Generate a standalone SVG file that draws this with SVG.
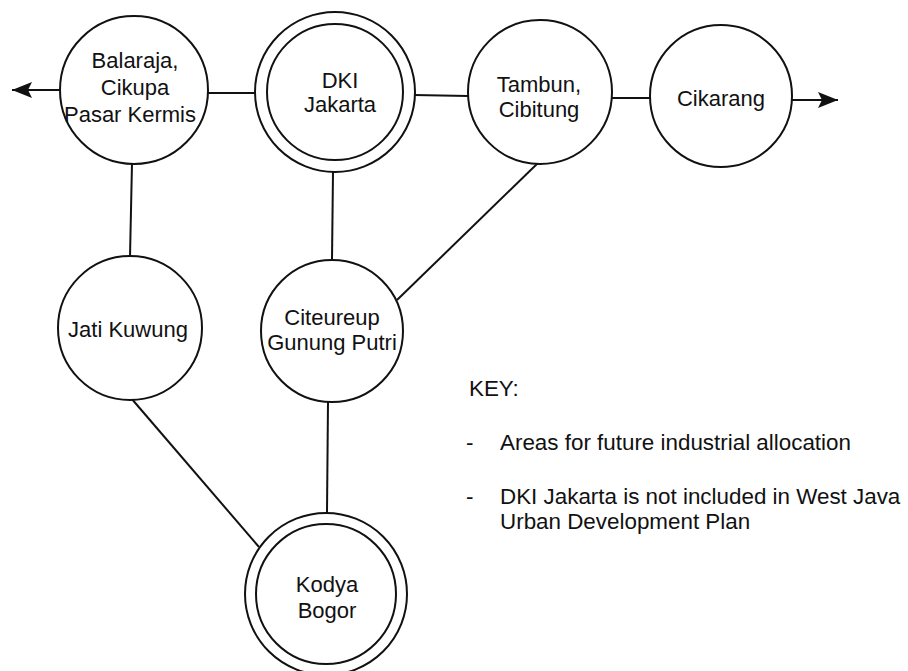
<svg xmlns="http://www.w3.org/2000/svg" width="908" height="671" viewBox="0 0 908 671">
  <style>
    .ring { fill: #fff; stroke: #111; stroke-width: 2; }
    .link { stroke: #111; stroke-width: 2; fill: none; }
    .label { font-family: "Liberation Sans", Arial, sans-serif; font-size: 22px; fill: #111; text-anchor: middle; }
    .key { font-family: "Liberation Sans", Arial, sans-serif; font-size: 22.4px; fill: #111; }
  </style>
  <defs>
    <marker id="arrow" viewBox="0 0 20 16" refX="20" refY="8" markerWidth="20" markerHeight="16" markerUnits="userSpaceOnUse" orient="auto">
      <path d="M0,0 L20,8 L0,16 L4,8 Z" fill="#111"/>
    </marker>
  </defs>
  <rect width="908" height="671" fill="#fff"/>

  <!-- connectors -->
  <g id="connectors">
    <line class="link" x1="60" y1="90" x2="12" y2="90" marker-end="url(#arrow)"/>
    <line class="link" x1="208" y1="93" x2="256" y2="93"/>
    <line class="link" x1="414" y1="95" x2="468" y2="96"/>
    <line class="link" x1="611" y1="98" x2="651" y2="98"/>
    <line class="link" x1="791" y1="100" x2="838" y2="100" marker-end="url(#arrow)"/>
    <line class="link" x1="132" y1="163" x2="130" y2="257"/>
    <line class="link" x1="333" y1="172" x2="332" y2="260"/>
    <line class="link" x1="538" y1="163" x2="397" y2="300"/>
    <line class="link" x1="328" y1="402" x2="327" y2="513"/>
    <line class="link" x1="131" y1="398" x2="259" y2="547"/>
  </g>

  <!-- nodes -->
  <g id="node-balaraja">
    <circle class="ring" cx="134" cy="90" r="74"/>
    <text class="label" x="135" y="68">Balaraja,</text>
    <text class="label" x="135" y="95">Cikupa</text>
    <text class="label" x="130" y="122">Pasar Kermis</text>
  </g>
  <g id="node-dki-jakarta">
    <circle class="ring" cx="335" cy="92" r="80"/>
    <circle class="ring" cx="335" cy="92" r="68"/>
    <text class="label" x="340" y="88">DKI</text>
    <text class="label" x="340" y="112">Jakarta</text>
  </g>
  <g id="node-tambun">
    <circle class="ring" cx="540" cy="92" r="72"/>
    <text class="label" x="539" y="92">Tambun,</text>
    <text class="label" x="539" y="117">Cibitung</text>
  </g>
  <g id="node-cikarang">
    <circle class="ring" cx="721" cy="96" r="71"/>
    <text class="label" x="721" y="106">Cikarang</text>
  </g>
  <g id="node-jati-kuwung">
    <circle class="ring" cx="130" cy="328" r="72"/>
    <text class="label" x="128" y="337">Jati Kuwung</text>
  </g>
  <g id="node-citeureup">
    <circle class="ring" cx="332" cy="331" r="71"/>
    <text class="label" x="332" y="325">Citeureup</text>
    <text class="label" x="332" y="350">Gunung Putri</text>
  </g>
  <g id="node-kodya-bogor">
    <circle class="ring" cx="326" cy="594" r="81"/>
    <circle class="ring" cx="326" cy="594" r="70"/>
    <text class="label" x="327" y="592">Kodya</text>
    <text class="label" x="327" y="618">Bogor</text>
  </g>

  <!-- legend -->
  <g id="legend">
    <text class="key" x="469" y="396">KEY:</text>
    <text class="key" x="466" y="450">-</text>
    <text class="key" x="500" y="450">Areas for future industrial allocation</text>
    <text class="key" x="466" y="504">-</text>
    <text class="key" x="500" y="504">DKI Jakarta is not included in West Java</text>
    <text class="key" x="500" y="529">Urban Development Plan</text>
  </g>
</svg>
